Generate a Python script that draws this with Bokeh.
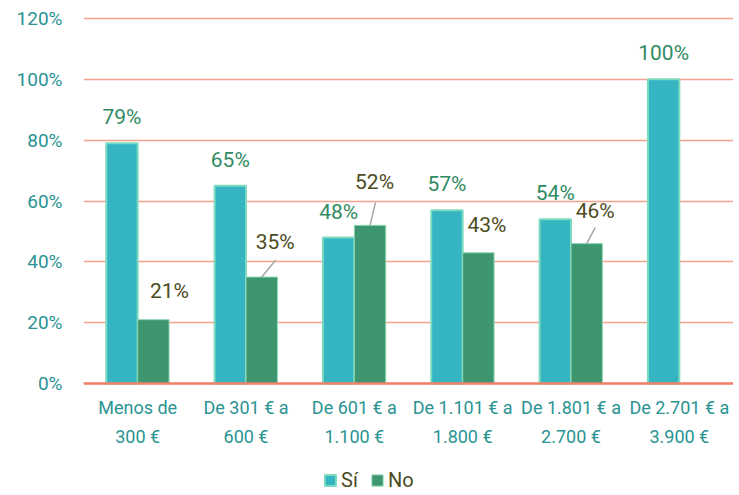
from bokeh.plotting import figure
from bokeh.models import (ColumnDataSource, FactorRange, Range1d, FixedTicker,
                          Legend, LegendItem, Span)
from bokeh.core.properties import value
from bokeh.transform import dodge
from bokeh.embed import file_html
from bokeh.resources import INLINE

# ---- data ----
categories = ["Menos de 300 €", "De 301 € a 600 €", "De 601 € a 1.100 €",
              "De 1.101 € a 1.800 €", "De 1.801 € a 2.700 €", "De 2.701 € a 3.900 €"]
cat_labels = ["Menos de\n300 €", "De 301 € a\n600 €", "De 601 € a\n1.100 €",
              "De 1.101 € a\n1.800 €", "De 1.801 € a\n2.700 €", "De 2.701 € a\n3.900 €"]
si_values = [79, 65, 48, 57, 54, 100]
no_values = [21, 35, 52, 43, 46, 0]
y_ticks = [0, 20, 40, 60, 80, 100, 120]
y_tick_labels = ["0%", "20%", "40%", "60%", "80%", "100%", "120%"]

# ---- style ----
FONT = "Roboto"
SI_FILL, SI_LINE = "#35b4c2", "#7ddbc0"
NO_FILL, NO_LINE = "#3d9670", "#8fd8b4"
TEAL_TXT = "#2a9393"
SI_LBL = "#2f8b62"
NO_LBL = "#4b4b1e"
GRID = "#f6a08e"
BASE = "#f08068"

BAR_W = 0.29
OFF = BAR_W / 2

no_lbl_dx = [16, 13.5, 4.5, 8.5, 8.5, 0]
no_lbl_up = [29, 35, 43, 28, 33, 0]
leaders = [(1, 14, 17), (2, 5.5, 23), (4, 8.5, 16)]

W, H = 733, 492
LEFT, TOP = 83, 15
PLOT_H = 368          # pixels from 0 % to top of range
Y_END = 121
px_per_unit = PLOT_H / Y_END
below_px = H - TOP - PLOT_H
Y_START = -below_px / px_per_unit
frame_w = W - LEFT
px_per_cat = frame_w / len(categories)

p = figure(width=W, height=H, output_backend="svg", toolbar_location=None,
           x_range=FactorRange(factors=categories, range_padding=0),
           y_range=Range1d(Y_START, Y_END),
           min_border_left=LEFT, min_border_right=0, min_border_top=TOP,
           min_border_bottom=0)
p.outline_line_color = None

src = ColumnDataSource(dict(
    cat=categories, si=si_values, no=no_values, lbl=cat_labels,
    zero=[0] * len(categories),
    si_txt=[f"{v}%" for v in si_values],
    no_txt=[f"{v}%" if v > 0 else "" for v in no_values],
    no_dx=no_lbl_dx, no_dy=[-u for u in no_lbl_up],
))

r_si = p.vbar(x=dodge("cat", -OFF, range=p.x_range), top="si", width=BAR_W, source=src,
              fill_color=SI_FILL, line_color=SI_LINE, line_width=2)
r_no = p.vbar(x=dodge("cat", OFF, range=p.x_range), top="no", width=BAR_W, source=src,
              fill_color=NO_FILL, line_color=NO_LINE, line_width=1)

p.add_layout(Span(location=0, dimension="width", line_color=BASE, line_width=2.5))

x0s, y0s, x1s, y1s = [], [], [], []
for i, dxe, upe in leaders:
    xc = i + 0.5 + OFF
    x0s.append(xc)
    y0s.append(no_values[i])
    x1s.append(xc + dxe / px_per_cat)
    y1s.append(no_values[i] + upe / px_per_unit)
p.segment(x0=x0s, y0=y0s, x1=x1s, y1=y1s, line_color="#a6a6a6", line_width=1.5)

p.text(x=dodge("cat", -OFF, range=p.x_range), y="si", text="si_txt", source=src,
       y_offset=-26, text_align="center", text_baseline="middle",
       text_font=value(FONT), text_font_size="21px", text_color=SI_LBL)
p.text(x=dodge("cat", OFF, range=p.x_range), y="no", text="no_txt", source=src,
       x_offset="no_dx", y_offset="no_dy", text_align="center", text_baseline="middle",
       text_font=value(FONT), text_font_size="21px", text_color=NO_LBL)

# category labels below the baseline
p.text(x="cat", y="zero", text="lbl", source=src, y_offset=13,
       text_align="center", text_baseline="top", text_line_height=1.42,
       text_font=value(FONT), text_font_size="18px", text_color=TEAL_TXT)

p.xaxis.visible = False
p.yaxis.ticker = FixedTicker(ticks=y_ticks)
p.yaxis.major_label_overrides = dict(zip(y_ticks, y_tick_labels))
p.yaxis.axis_line_color = None
p.yaxis.major_tick_line_color = None
p.yaxis.major_tick_out = 0
p.yaxis.major_tick_in = 0
p.yaxis.minor_tick_line_color = None
p.yaxis.major_label_text_font = FONT
p.yaxis.major_label_text_font_size = "19px"
p.yaxis.major_label_text_color = TEAL_TXT
p.yaxis.major_label_standoff = 21

p.xgrid.grid_line_color = None
p.ygrid.grid_line_color = GRID
p.ygrid.grid_line_width = 1.5

legend = Legend(items=[LegendItem(label="Sí", renderers=[r_si]),
                       LegendItem(label="No", renderers=[r_no])],
                orientation="horizontal", location=(240, 0),
                label_text_font=FONT, label_text_font_size="20px",
                label_text_color=NO_LBL, glyph_width=14, glyph_height=14,
                label_standoff=4, spacing=9, padding=0, margin=0,
                border_line_color=None, background_fill_alpha=0)
p.add_layout(legend)

open("out.html", "w").write(file_html(p, INLINE))
